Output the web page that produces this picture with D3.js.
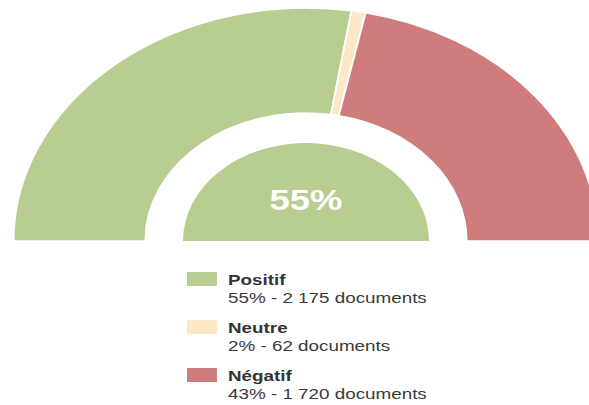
<!DOCTYPE html>
<html>
<head>
<meta charset="utf-8">
<script src="https://cdn.jsdelivr.net/npm/d3@7"></script>
<style>
  body { margin: 0; background: #ffffff; }
  text { font-family: "Liberation Sans", Arial, sans-serif; }
</style>
</head>
<body>
<div id="chart"></div>
<script>
// Data
const categories = ["Positif", "Neutre", "Négatif"];
const documents = [2175, 62, 1720];
const percents = [55, 2, 43];
const colors = ["#b7cd91", "#fce7c6", "#cf7d7c"];
const centerLabel = "55%";

const WIDTH = 589, HEIGHT = 405;

// the reference is stretched horizontally
const sx = 1.255;
let cx = 306 / sx, cy = 241;

let svg = d3.select("#chart")
    .append("svg")
    .attr("width", WIDTH)
    .attr("height", HEIGHT);

let g = svg.append("g")
    .attr("transform", "scale(" + sx + ",1)");

let pie = d3.pie()
    .sort(null)
    .startAngle(-Math.PI / 2)
    .endAngle(Math.PI / 2)
    .value(function(d) { return d; });

let arc = d3.arc()
    .innerRadius(128)
    .outerRadius(233);

let donut = g.append("g")
    .attr("transform", "translate(" + cx + "," + cy + ")");

donut.selectAll("path.slice")
    .data(pie(documents))
    .enter()
    .append("path")
    .attr("class", "slice")
    .attr("d", arc)
    .attr("fill", function(d, i) { return colors[i]; })
    .attr("stroke", "#ffffff")
    .attr("stroke-width", 1.5);

// inner half disc for the main value
let innerArc = d3.arc()
    .innerRadius(0)
    .outerRadius(98)
    .startAngle(-Math.PI / 2)
    .endAngle(Math.PI / 2);

donut.append("path")
    .attr("d", innerArc())
    .attr("fill", colors[0]);

donut.append("text")
    .attr("x", 0)
    .attr("y", -31)
    .attr("text-anchor", "middle")
    .attr("fill", "#ffffff")
    .style("font-size", "29px")
    .style("font-weight", "bold")
    .text(centerLabel);

// Legend
let legend = g.append("g")
    .attr("transform", "translate(" + (187 / sx) + ",272)");

let rows = legend.selectAll("g.row")
    .data(categories)
    .enter()
    .append("g")
    .attr("class", "row")
    .attr("transform", function(d, i) { return "translate(0," + (i * 48) + ")"; });

rows.append("rect")
    .attr("width", 30 / sx)
    .attr("height", 14)
    .attr("fill", function(d, i) { return colors[i]; });

rows.append("text")
    .attr("x", 41 / sx)
    .attr("y", 13)
    .attr("fill", "#333333")
    .style("font-size", "15px")
    .style("font-weight", "bold")
    .text(function(d) { return d; });

rows.append("text")
    .attr("x", 41 / sx)
    .attr("y", 31)
    .attr("fill", "#3a3a3a")
    .style("font-size", "15px")
    .text(function(d, i) {
        return percents[i] + "% - " + d3.format(",")(documents[i]).replace(",", " ") + " documents";
    });
</script>
</body>
</html>
